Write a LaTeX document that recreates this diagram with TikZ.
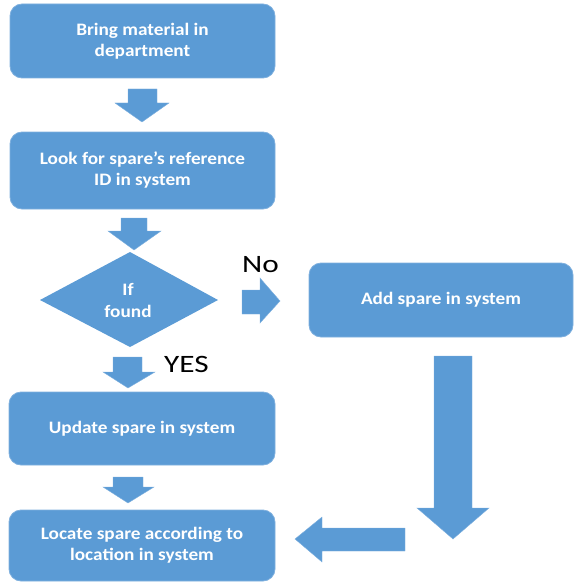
\documentclass[tikz,border=0pt]{standalone}
\usepackage{fontspec}
\setmainfont{Carlito}
\newfontfamily\boxfont[FakeStretch=1.1]{Carlito}
\newfontfamily\labelfont[FakeStretch=1.25]{Carlito}
\definecolor{boxblue}{HTML}{5B9BD5}
\definecolor{edgeblue}{HTML}{7FB0DE}
\begin{document}
\begin{tikzpicture}[x=1pt,y=-1pt,
  stepbox/.style={draw=edgeblue,line width=0.8pt,fill=boxblue,rounded corners=12pt,
    text=white,font=\boxfont\bfseries\fontsize{17.5}{21}\selectfont,align=center,inner sep=0pt},
  blockarrow/.style={fill=boxblue,draw=edgeblue,line width=0.4pt},
  lbl/.style={font=\labelfont\fontsize{25}{27}\selectfont,text=black,inner sep=0pt}]
\useasboundingbox (0,0) rectangle (575,583);
% boxes
\node[stepbox,minimum width=265pt,minimum height=74pt] (bring) at (142.5,41) {Bring material in\\department};
\node[stepbox,minimum width=265pt,minimum height=77pt] (look) at (142.5,170.5) {Look for spare’s reference\\ID in system};
\fill[boxblue] (130,252) -- (218,300) -- (130,347) -- (40,300) -- cycle;
\node[text=white,font=\boxfont\bfseries\fontsize{17.5}{22}\selectfont,align=center,inner sep=0pt] (found) at (128,300) {If\\found};
\node[stepbox,minimum width=264pt,minimum height=74pt] (add) at (441,300) {Add spare in system};
\node[stepbox,minimum width=266pt,minimum height=73pt] (update) at (142,428.5) {Update spare in system};
\node[stepbox,minimum width=266pt,minimum height=71pt] (locate) at (142,545.5) {Locate spare according to\\location in system};
% block arrows
\filldraw[blockarrow] (128,89) -- (157,89) -- (157,103) -- (169,103) -- (142,122) -- (115,103) -- (128,103) -- cycle;
\filldraw[blockarrow] (121,218) -- (147,218) -- (147,231) -- (161,231) -- (134,250) -- (108,231) -- (121,231) -- cycle;
\filldraw[blockarrow] (242,290) -- (260,290) -- (260,278) -- (280,301) -- (260,323) -- (260,314) -- (242,314) -- cycle;
\filldraw[blockarrow] (113,357) -- (142,357) -- (142,372) -- (155,372) -- (128,388) -- (103,372) -- (113,372) -- cycle;
\filldraw[blockarrow] (113,477) -- (143,477) -- (143,487) -- (154,487) -- (128,503) -- (103,487) -- (113,487) -- cycle;
\filldraw[blockarrow] (434,356) -- (472,356) -- (472,508) -- (489,508) -- (453,539) -- (417,508) -- (434,508) -- cycle;
\filldraw[blockarrow] (405,528) -- (405,551) -- (322,551) -- (322,562) -- (295,539) -- (322,517) -- (322,528) -- cycle;
% labels
\node[lbl,anchor=base west] (no) at (242,272) {No};
\node[lbl,anchor=base west] (yes) at (164,372) {YES};
\end{tikzpicture}
\end{document}
